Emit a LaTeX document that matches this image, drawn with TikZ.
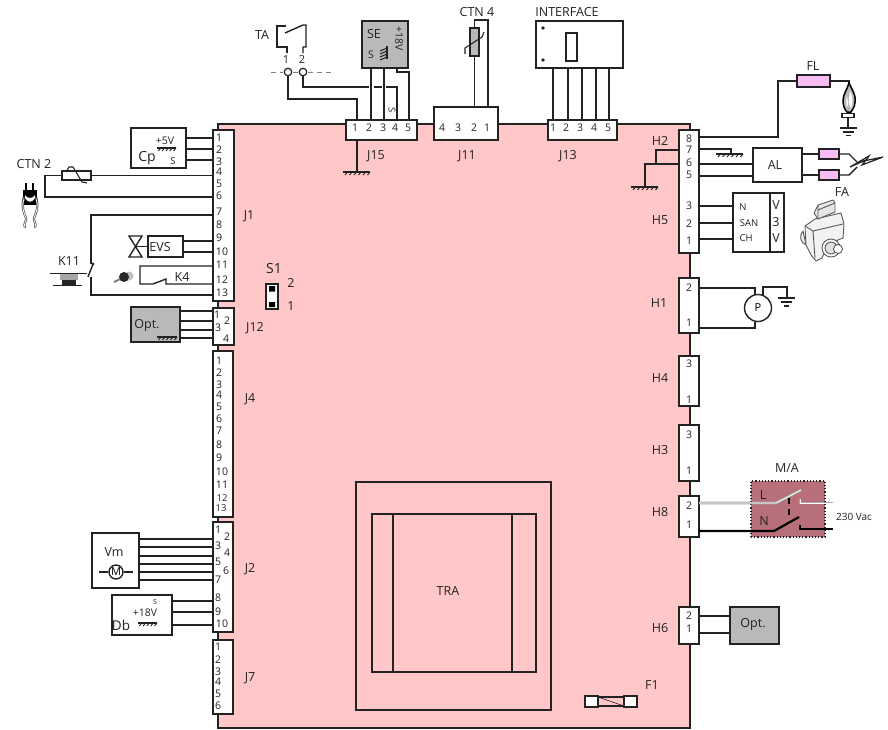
\documentclass[tikz,border=0pt]{standalone}
\usepackage{fontspec}
\setmainfont{Open Sans}
\definecolor{boardpink}{HTML}{FFC7C7}
\definecolor{inkc}{HTML}{222222}
\definecolor{optgray}{HTML}{B9B9B9}
\definecolor{fuspink}{HTML}{F7BDF2}
\definecolor{mauve}{HTML}{B7707A}
\newcommand\bx[6][plainbox]{\node[#1,minimum width={(#4-#2)*1pt},minimum height={(#5-#3)*1pt}] (#6) at ({(#2+#4)/2},{(#3+#5)/2}) {};}
\newcommand\hw[3]{\draw[wire] (#1.east |- 0,#3) -- (#2.west |- 0,#3);}
\newcommand\vw[3]{\draw[wire] (#1.south -| #3,0) -- (#2.north -| #3,0);}
\newcommand\lbl[4]{\node[lab] (#1) at (#2,#3) {#4};}
\newcommand\hatchg[4][5]{\draw[line width=1.1pt,inkc] (#2,#4) -- (#3,#4);
  \foreach \k in {1,...,#1}{\draw[line width=.9pt,inkc] ({#2+(#3-#2)*\k/#1},#4) -- ++(-2.5,3);}}
\tikzset{
  wire/.style={line width=1.4pt,draw=inkc,line join=miter},
  plainbox/.style={draw=inkc,line width=1.5pt,fill=white,inner sep=0pt,outer sep=0pt},
  grayb/.style={plainbox,fill=optgray},
  pinkb/.style={plainbox,fill=fuspink,line width=1.2pt},
  lab/.style={font=\fontsize{12.5}{13}\selectfont,text=inkc,inner sep=0pt},
  pinn/.style={font=\fontsize{10.5}{11}\selectfont,text=inkc,inner sep=0pt},
  tiny/.style={font=\fontsize{9.5}{10}\selectfont,text=inkc,inner sep=0pt},
  faicon/.style={draw=gray!70!black,line width=.9pt,fill=gray!12,line join=round},
}
\begin{document}
\begin{tikzpicture}[x=1pt,y=-1pt]
\useasboundingbox (0,0) rectangle (888,729);
% board
\node[draw=inkc,line width=1.5pt,fill=boardpink,inner sep=0pt,outer sep=0pt,minimum width=472pt,minimum height=604pt] (board) at (454,426) {};
% connector boxes
\bx{213}{130}{234}{301}{J1b}
\bx{213}{308}{234}{345}{J12b}
\bx{213}{351}{233}{517}{J4b}
\bx{213}{522}{233}{632}{J2b}
\bx{213}{640}{233}{714}{J7b}
\bx{346}{120}{417}{140}{J15b}
\bx{434}{107}{498}{140}{J11b}
\bx{548}{120}{617}{140}{J13b}
\bx{679}{130}{699}{253}{H5b}
\bx{679}{278}{699}{333}{H1b}
\bx{679}{356}{699}{406}{H4b}
\bx{679}{425}{699}{481}{H3b}
\bx{679}{496}{699}{537}{H8b}
\bx{679}{607}{699}{644}{H6b}
% pin numbers
\foreach \t/\x/\y in {1/219/138,2/219/150,3/219/162,4/219/172,5/219/184,6/219/196,7/219/212,8/219/225,9/219/238,10/222/252,11/222/265,12/222/280,13/222/293}{\node[pinn,name=pa\t] at (\x,\y) {\t};}
\foreach \t/\x/\y in {1/217/315,2/227/321,3/218/328,4/226/339}{\node[pinn,name=pb\t] at (\x,\y) {\t};}
\foreach \t/\x/\y in {1/219/361,2/219/373,3/219/385,4/219/395,5/219/407,6/219/419,7/219/431,8/219/445,9/219/458,10/222/472,11/222/485}{\node[pinn,name=pc\t] at (\x,\y) {\t};}
\foreach \t/\x/\y in {12/222/498,13/221/508}{\node[tiny,name=pc\t] at (\x,\y) {\t};}
\foreach \t/\x/\y in {1/218/530,2/227/537,3/218/546,4/227/553,5/218/562,6/226/571,7/218/580,8/218/598,9/218/612,10/222/624}{\node[pinn,name=pd\t] at (\x,\y) {\t};}
\foreach \t/\x/\y in {1/218/647,2/218/660,3/218/672,4/218/682,5/218/694,6/218/706}{\node[pinn,name=pe\t] at (\x,\y) {\t};}
\foreach \t/\x in {1/355,2/369,3/383,4/395,5/408}{\node[pinn,name=pf\t] at (\x,128) {\t};}
\foreach \t/\x in {4/442,3/458,2/474,1/487}{\node[pinn,name=pg\t] at (\x,128) {\t};}
\foreach \t/\x in {1/553,2/566,3/580,4/594,5/608}{\node[pinn,name=ph\t] at (\x,128) {\t};}
\foreach \n/\t/\y in {a/8/139,b/7/150,c/6/163,d/5/175,e/3/206,f/2/224,g/1/241,h/2/288,i/1/323,j/3/364,k/1/400,l/3/435,m/1/471,n/2/506,o/1/525,p/2/616,q/1/629}{\node[pinn,name=pr\n] at (689,\y) {\t};}
% connector labels
\lbl{lJ1}{249}{216}{J1}
\lbl{lJ12}{255}{328}{J12}
\lbl{lJ4}{250}{399}{J4}
\lbl{lJ2}{250}{569}{J2}
\lbl{lJ7}{250}{678}{J7}
\lbl{lJ15}{376}{156}{J15}
\lbl{lJ11}{467}{156}{J11}
\lbl{lJ13}{568}{156}{J13}
\lbl{lH2}{660}{141}{H2}
\lbl{lH5}{660}{220}{H5}
\lbl{lH1}{659}{303}{H1}
\lbl{lH4}{660}{378}{H4}
\lbl{lH3}{660}{450}{H3}
\lbl{lH8}{660}{512}{H8}
\lbl{lH6}{660}{628}{H6}
\lbl{lF1}{652}{685}{F1}
% S1
\node[lab,font=\fontsize{14}{15}\selectfont] (lS1) at (274,268) {S1};
\bx{266}{284}{278}{309}{S1b}
\fill[black] (269,286) rectangle (275,291.5) (269,302) rectangle (275,307);
\lbl{lS2}{291}{283}{2}
\lbl{lS3}{291}{306}{1}
% Cp
\bx{131}{128}{186}{168}{Cp}
\node[tiny,font=\fontsize{10.5}{11}\selectfont] (t5v) at (165,141) {+5V};
\hatchg{157}{176}{148}
\node[tiny] (tcs) at (173,161) {S};
\node[lab,font=\fontsize{14}{15}\selectfont] (lCp) at (147,158) {Cp};
\hw{Cp}{J1b}{138}\hw{Cp}{J1b}{149}\hw{Cp}{J1b}{160}
% CTN2
\lbl{lCTN2}{34}{164}{CTN 2}
\node[plainbox,fill=white,minimum width=29pt,minimum height=9pt,line width=1.2pt] (ctn2) at (76.5,175.5) {};
\draw[wire] (ctn2.west) -- (45,175.5) -- (45,197) -- (J1b.west |- 0,197);
\draw[wire] (ctn2.east) -- (J1b.west |- ctn2.east);
\draw[wire,line width=1.1pt] (66,172) -- (69,167) -- (73,167) -- (82,182) -- (87,183);
% sensor icon
\draw[line width=1.4pt,black] (26,183) -- (26,192) (33,183) -- (33,192);
\fill[black] (23,190) rectangle (37,205);
\fill[white] (25,195) .. controls (27,199) and (33,199) .. (35,195) -- (35,198) .. controls (32,203) and (28,203) .. (25,198) -- cycle;
\draw[line width=2.2pt,gray!60!black] (24,197) .. controls (21,205) and (24,214) .. (26,218) .. controls (27,221) and (23,223) .. (25,228);
\draw[line width=2.2pt,gray!60!black] (36,197) .. controls (39,205) and (36,214) .. (34,218) .. controls (33,221) and (37,223) .. (35,228);
\draw[line width=.8pt,white] (24,199) .. controls (21,205) and (24,214) .. (26,218) .. controls (27,221) and (23,223) .. (25,228);
\draw[line width=.8pt,white] (36,199) .. controls (39,205) and (36,214) .. (34,218) .. controls (33,221) and (37,223) .. (35,228);
% K11
\lbl{lK11}{69}{261}{K11}
\coordinate (k11a) at (91,264);
\coordinate (k11b) at (91,277);
\draw[wire] (J1b.west |- 0,215) -- (91,215) -- (k11a);
\draw[wire] (k11b) -- (91,295) -- (J1b.west |- 0,295);
\fill[inkc] (93,264) circle (1.6);
\draw[wire] (93,264) -- (88,277);
\draw[line width=1pt,inkc] (50,273) -- (87,273) (53,285) -- (82,285);
\fill[gray!70] (60,274) rectangle (78,280);
\fill[black!85] (62,280) rectangle (76,285);
% EVS
\bx{148}{236}{183}{257}{EVS}
\lbl{lEVS}{160}{247}{EVS}
\hw{EVS}{J1b}{241}\hw{EVS}{J1b}{252}
\draw[wire] (129,236) -- (142,236) -- (129,257) -- (142,257) -- cycle;
\draw[wire] (135.5,246.5) -- (EVS.west);
% K4
\lbl{lK4}{182}{277}{K4}
\draw[wire] (J1b.west |- 0,266) -- (140,266) -- (140,284) -- (153,284) -- (166,279) -- (166,284) -- (J1b.west |- 0,284);
\fill[gray!50] (129,276) circle (4.5);
\fill[black!85] (124,277) circle (5);
\draw[gray,line width=2pt] (120,279) -- (114,282);
% Opt J12
\bx[grayb]{131}{307}{180}{342}{OptA}
\lbl{lOptA}{147}{325}{Opt.}
\hatchg{157}{177}{337}
\hw{OptA}{J12b}{311}\hw{OptA}{J12b}{321}\hw{OptA}{J12b}{330}\hw{OptA}{J12b}{338}
% Vm
\bx{92}{533}{139}{588}{Vm}
\lbl{lVm}{114}{552}{Vm}
\foreach \y in {539,547,556,564,572,580}{\hw{Vm}{J2b}{\y}}
\node[circle,draw=inkc,line width=1.4pt,fill=white,minimum size=14pt,inner sep=0pt,font=\fontsize{11}{12}\selectfont] (motor) at (116,572) {M};
\draw[wire] (99,572) -- (motor.west) (motor.east) -- (133,572);
% Db
\bx{112}{595}{172}{635}{Db}
\node[tiny,font=\fontsize{7}{8}\selectfont] (tds) at (155,602) {S};
\node[tiny,font=\fontsize{10.5}{11}\selectfont] (t18) at (145,613) {+18V};
\hatchg{138}{157}{623}
\node[lab,font=\fontsize{13.5}{14}\selectfont] (lDb) at (121,625) {Db};
\hw{Db}{J2b}{601}\hw{Db}{J2b}{612}\hw{Db}{J2b}{625}
% TA
\lbl{lTA}{262}{35}{TA}
\node[pinn,font=\fontsize{11}{12}\selectfont] (ta1l) at (286,60) {1};
\node[pinn,font=\fontsize{11}{12}\selectfont] (ta2l) at (302,60) {2};
\draw[gray,line width=1pt,dash pattern=on 5pt off 4pt] (271,72) -- (283,72) (293,72) -- (298,72) (308,72) -- (332,72);
\node[circle,draw=inkc,line width=1.2pt,fill=white,minimum size=7.5pt,inner sep=0pt] (ta1) at (288,72) {};
\node[circle,draw=inkc,line width=1.2pt,fill=white,minimum size=7.5pt,inner sep=0pt] (ta2) at (303,72) {};
\draw[wire] (286,26) -- (277,26) -- (277,47) -- (287,47) -- (287,53);
\draw[wire] (285,33) -- (303,25) -- (306,25) -- (306,47) -- (303,47) -- (303,53);
\draw[wire] (ta1.south) -- (288,99) -- (357,99) -- (J15b.north -| 357,0);
\draw[wire] (ta2.south) -- (303,87) -- (369,87) (374,87) -- (382,87) (386,87) -- (397,87) -- (J15b.north -| 397,0);
\draw[wire] (J15b.south -| 357,0) -- (357,172);
\hatchg[6]{343}{370}{172}
% SE
\bx[grayb]{362}{21}{408}{68}{SE}
\lbl{lSE}{374}{34}{SE}
\node[tiny,font=\fontsize{10.5}{11}\selectfont,rotate=-90] (t18b) at (399,39) {+18V};
\node[tiny,font=\fontsize{10.5}{11}\selectfont] (tSs) at (371,55) {S};
\draw[line width=1.1pt,inkc] (387,46) -- (387,59);
\foreach \y in {48,51,54,57}{\draw[line width=1pt,inkc] (387,\y) -- (380,\y+3);}
\vw{SE}{J15b}{371}\vw{SE}{J15b}{384}
\draw[wire] (SE.south -| 397,0) -- (397,72) -- (409,72) -- (J15b.north -| 409,0);
\node[tiny,rotate=-90] (tS4) at (392,110) {S};
% CTN4
\lbl{lCTN4}{477}{12}{CTN 4}
\node[plainbox,fill=optgray,minimum width=9pt,minimum height=28pt,line width=1.2pt] (ctn4) at (474.5,42) {};
\draw[wire] (ctn4.south) -- (J11b.north -| ctn4.south);
\draw[wire] (ctn4.north) -- (474.5,20) -- (488,20) -- (J11b.north -| 488,0);
\draw[wire,line width=1.1pt] (465,54) -- (465,48) -- (482,37) -- (484,32);
% INTERFACE
\lbl{lINT}{567}{12}{INTERFACE}
\bx{536}{21}{623}{68}{INTF}
\bx{566}{33}{577}{61}{INTi}
\fill[inkc] (543,28) circle (1.8) (543,60) circle (1.8);
\foreach \x in {553,568,582,596,609}{\vw{INTF}{J13b}{\x}}
% FL
\lbl{lFL}{813}{66}{FL}
\node[pinkb,minimum width=33pt,minimum height=12pt] (FLr) at (813.5,81) {};
\draw[wire] (H5b.east |- 0,137) -- (778,137) -- (778,81) -- (FLr.west);
\draw[wire] (FLr.east) -- (849,81) -- (849,84);
\draw[line width=1.5pt,black,fill=gray!55] (849,83) .. controls (852,90) and (856,94) .. (855,102) .. controls (855,107) and (852,110) .. (851,112) -- (847,112) .. controls (845,110) and (843,106) .. (843,101) .. controls (843,94) and (847,90) .. (849,83) -- cycle;
\fill[white] (850,91) .. controls (852,96) and (853,100) .. (852,105) -- (851,109) -- (849,103) .. controls (849,100) and (849,96) .. (850,91) -- cycle;
\fill[white] (847,96) .. controls (846,100) and (846,104) .. (847,108) -- (848,103) -- cycle;
\node[plainbox,fill=white,minimum width=12pt,minimum height=4.5pt,line width=1.2pt] (burner) at (848,115.5) {};
\draw[wire] (burner.south) -- (848,128);
\draw[wire] (840,128) -- (857,128);
\draw[line width=1.2pt,inkc] (843,132) -- (854,132);
\draw[line width=1.2pt,inkc] (846,135.5) -- (851,135.5);
% pin 7
\draw[wire] (H5b.east |- 0,149) -- (731,149) -- (731,154);
\hatchg[6]{716}{743}{154}
% AL
\bx{753}{148}{802}{182}{AL}
\lbl{lAL}{775}{165}{AL}
\hw{H5b}{AL}{164}\hw{H5b}{AL}{176}
\node[pinkb,minimum width=20pt,minimum height=10pt] (FAa) at (829,154) {};
\node[pinkb,minimum width=20pt,minimum height=10pt] (FAb) at (829,175) {};
\draw[wire] (AL.east |- FAa.west) -- (FAa.west);
\draw[wire] (AL.east |- FAb.west) -- (FAb.west);
\draw[wire] (FAa.east) -- (849,154) -- (857,162);
\draw[wire] (FAb.east) -- (849,175) -- (857,167);
\draw[line width=1.2pt,inkc,fill=white] (850,167) -- (866,160) -- (862,165) -- (883,157) -- (866,160.5) -- (869,156) -- cycle;
\lbl{lFA}{842}{192}{FA}
% FA icon
\filldraw[faicon] (803,231) .. controls (799,235) and (800,243) .. (806,245) -- cycle;
\filldraw[faicon,fill=gray!10] (805,226) -- (815,219) -- (841,213) -- (844,224) -- (843,238) -- (828,244) -- (822,258) -- (816,261) -- (811,255) -- (806,245) -- cycle;
\draw[faicon] (805,226) -- (813,231) -- (815,258) (813,231) -- (843,224);
\filldraw[faicon,fill=gray!20] (814,213) -- (818,205) -- (833,200) -- (835,203) -- (835,212) -- (818,219) -- cycle;
\draw[faicon] (818,205) -- (818,219) (818,210) -- (835,203);
\filldraw[faicon,fill=white] (831,248) circle (9);
\filldraw[faicon,fill=gray!25] (831,248) circle (6);
\filldraw[faicon,fill=white] (838,249) circle (4.5);
% V3V
\bx{733}{193}{784}{252}{V3V}
\draw[wire] (770,193) -- (770,252);
\node[tiny] (vN) at (743,207) {N};
\node[tiny] (vS) at (749,223) {SAN};
\node[tiny] (vC) at (746,238) {CH};
\lbl{vV1}{776}{205}{V}
\lbl{vV2}{776}{222}{3}
\lbl{vV3}{776}{238}{V}
\hw{H5b}{V3V}{206}\hw{H5b}{V3V}{223}\hw{H5b}{V3V}{239}
% H2 ground
\draw[wire] (H5b.west |- 0,150) -- (656,150) -- (656,164);
\draw[wire] (H5b.west |- 0,164) -- (645,164) -- (645,187);
\hatchg[6]{631}{658}{187}
% P
\node[circle,draw=inkc,line width=1.4pt,fill=white,minimum size=27pt,inner sep=0pt,font=\fontsize{11}{12}\selectfont] (pump) at (758,308) {P};
\draw[wire] (H1b.east |- 0,288) -- (755,288) -- (755,294.5);
\draw[wire] (H1b.east |- 0,328) -- (755,328) -- (755,321.5);
\draw[wire] (763,295) -- (763,287) -- (787,287) -- (787,298);
\draw[wire] (778,298) -- (795,298);
\draw[line width=1.2pt,inkc] (781,302) -- (792,302);
\draw[line width=1.2pt,inkc] (784,306) -- (789,306);
% M/A
\lbl{lMA}{787}{468}{M/A}
\node[draw=inkc,line width=1.2pt,dotted,fill=mauve,inner sep=0pt,outer sep=0pt,minimum width=74pt,minimum height=56pt] (MA) at (788,509) {};
\lbl{lL}{763}{495}{L}
\lbl{lN}{764}{521}{N}
\draw[gray!70,line width=2.6pt] (H8b.east |- 0,503) -- (776,503) -- (801,490);
\draw[white,line width=.8pt] (H8b.east |- 0,503) -- (776,503) -- (801,490);
\draw[gray!70,line width=2.6pt] (800,499) -- (800,503) -- (833,503);
\draw[white,line width=.8pt] (800,499) -- (800,503) -- (833,503);
\draw[black,line width=2.2pt] (H8b.east |- 0,531) -- (774,531) -- (799,517);
\draw[black,line width=2.2pt] (800,525) -- (800,529) -- (833,529);
\draw[black,line width=1.2pt,dash pattern=on 6pt off 5pt] (789,498) -- (789,515);
\node[tiny,font=\fontsize{10}{11}\selectfont] (t230) at (854,517) {230 Vac};
% Opt H6
\bx[grayb]{730}{607}{779}{644}{OptB}
\lbl{lOptB}{753}{624}{Opt.}
\hw{H6b}{OptB}{616}\hw{H6b}{OptB}{633}
% TRA
\draw[line width=1.4pt,inkc] (356,482) rectangle (551,710);
\draw[line width=1.4pt,inkc] (372,514) rectangle (536,672);
\draw[line width=1.4pt,inkc] (393,514) -- (393,672) (512,514) -- (512,672);
\lbl{lTRA}{448}{591}{TRA}
% fuse
\bx{598}{697}{624}{706}{fuseb}
\path (fuseb.center) node[fill=boardpink,minimum width=24pt,minimum height=7.5pt,inner sep=0pt] (fusei) {};
\draw[line width=.6pt,inkc] (598,697) -- (624,706);
\bx{585}{696}{598}{707}{capl}
\bx{624}{696}{637}{707}{capr}
\end{tikzpicture}
\end{document}
